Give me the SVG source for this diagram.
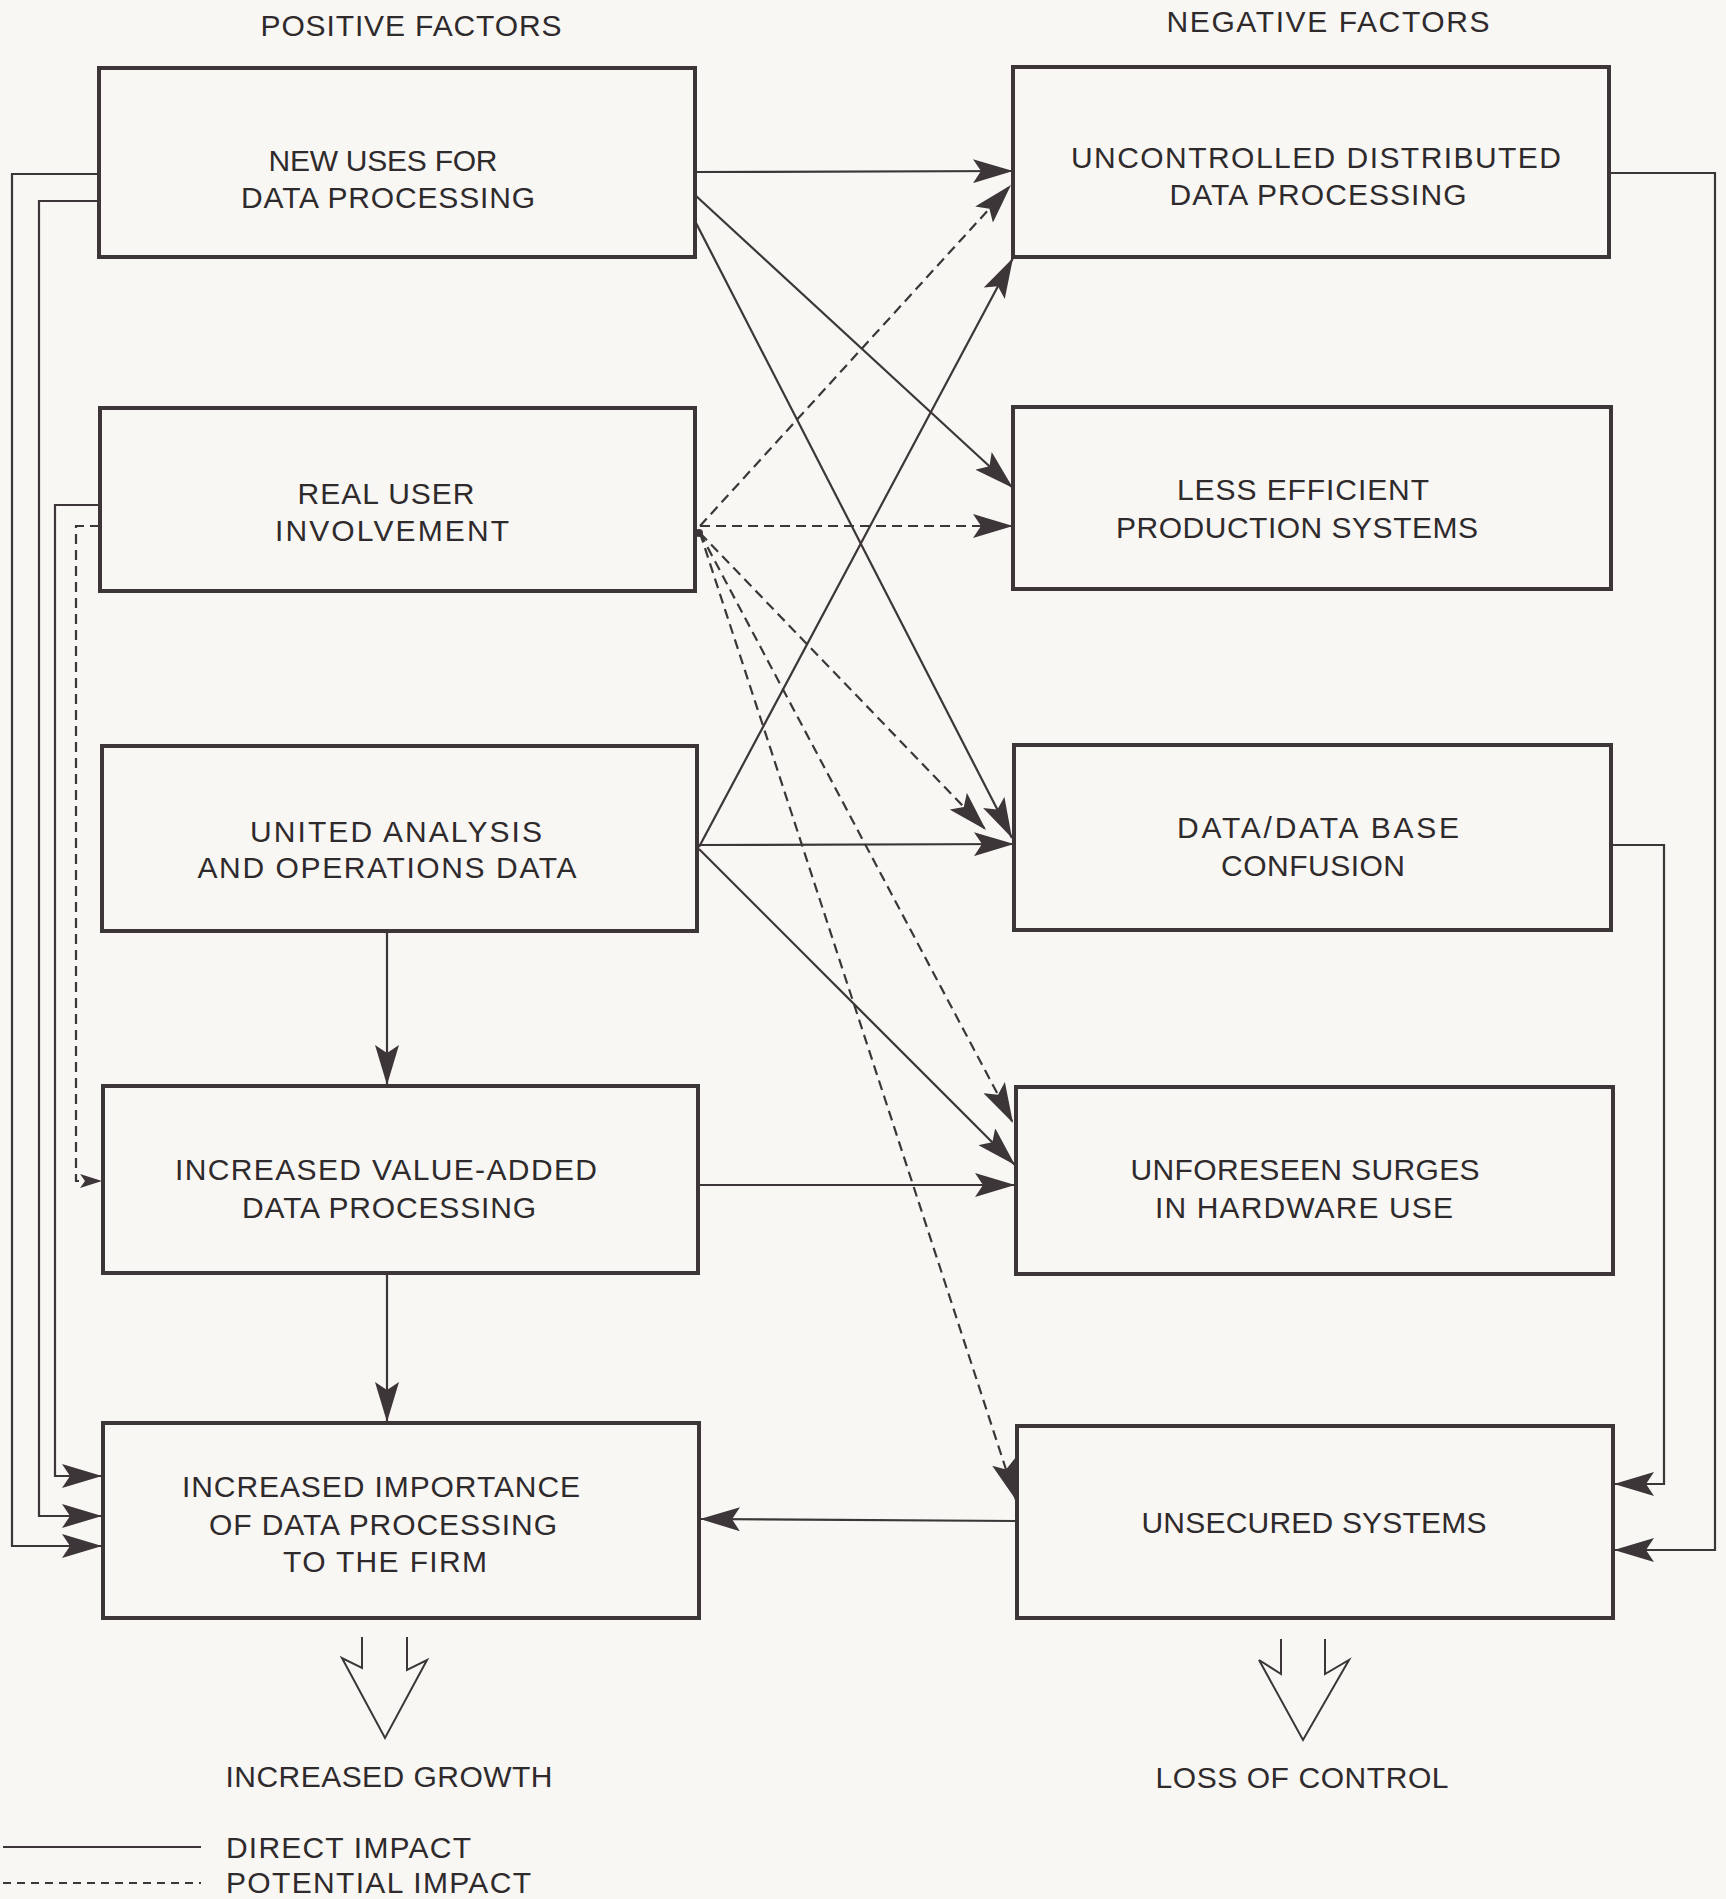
<svg xmlns="http://www.w3.org/2000/svg" width="1726" height="1899" viewBox="0 0 1726 1899">
<style>
.bg{fill:#f8f7f4}
.box{fill:none;stroke:#3c3638;stroke-width:4}
.t{font-family:"Liberation Sans",Arial,sans-serif;font-size:30px;fill:#2f2a2c;text-anchor:middle}
.tl{font-family:"Liberation Sans",Arial,sans-serif;font-size:30px;fill:#2f2a2c;text-anchor:start}
.c{fill:none;stroke:#3c3638;stroke-width:2.2}
.d{fill:none;stroke:#3c3638;stroke-width:2.2;stroke-dasharray:10 6}
.ah{fill:#3c3638}
.big{fill:none;stroke:#3c3638;stroke-width:2}
</style>
<defs>
<marker id="arr" viewBox="0 0 40 24" refX="40" refY="12" markerWidth="40" markerHeight="24" markerUnits="userSpaceOnUse" orient="auto">
<path class="ah" d="M0,0 L40,12 L0,24 L8,12 z"/>
</marker>
<marker id="arrs" viewBox="0 0 22 14" refX="22" refY="7" markerWidth="22" markerHeight="14" markerUnits="userSpaceOnUse" orient="auto">
<path class="ah" d="M0,0 L22,7 L0,14 L5,7 z"/>
</marker>
</defs>
<rect class="bg" x="0" y="0" width="1726" height="1899"/>

<g id="headers">
<text class="t" x="411" y="36" textLength="301">POSITIVE FACTORS</text>
<text class="t" x="1328" y="32" textLength="323">NEGATIVE FACTORS</text>
</g>

<g id="connectors">
<path class="c" d="M695,172 L1013,171" marker-end="url(#arr)"/>
<path class="c" d="M695,195 L1013,488" marker-end="url(#arr)"/>
<path class="c" d="M695,221 L1012,838" marker-end="url(#arr)"/>
<path class="c" d="M699,847 L1013,258" marker-end="url(#arr)"/>
<path class="c" d="M699,845 L1014,844" marker-end="url(#arr)"/>
<path class="c" d="M699,849 L1015,1165" marker-end="url(#arr)"/>
<path class="c" d="M387,931 L387,1085" marker-end="url(#arr)"/>
<path class="c" d="M698,1185 L1015,1185" marker-end="url(#arr)"/>
<path class="c" d="M387,1273 L387,1422" marker-end="url(#arr)"/>
<path class="c" d="M1017,1521 L700,1519" marker-end="url(#arr)"/>
<path class="c" d="M99,174 L12,174 L12,1546 L102,1546" marker-end="url(#arr)"/>
<path class="c" d="M99,201 L39,201 L39,1516 L102,1516" marker-end="url(#arr)"/>
<path class="c" d="M100,505 L55,505 L55,1476 L102,1476" marker-end="url(#arr)"/>
<path class="c" d="M1609,173 L1715,173 L1715,1550 L1614,1550" marker-end="url(#arr)"/>
<path class="c" d="M1611,845 L1664,845 L1664,1484 L1614,1484" marker-end="url(#arr)"/>
<path class="d" d="M700,526 L1011,185" marker-end="url(#arr)"/>
<path class="d" d="M700,526 L1013,526" marker-end="url(#arr)"/>
<path class="d" d="M700,533 L986,830" marker-end="url(#arr)"/>
<path class="d" d="M700,533 L1013,1123" marker-end="url(#arr)"/>
<path class="d" d="M700,533 L1016,1500" marker-end="url(#arr)"/>
<path class="d" d="M100,526 L76,526 L76,1181 L102,1181" marker-end="url(#arrs)"/>
<circle class="ah" cx="699" cy="533" r="4"/>
</g>

<g id="n-new-uses">
<rect class="box" x="99" y="68" width="596" height="189"/>
<text class="t" x="383" y="171" textLength="229">NEW USES FOR</text>
<text class="t" x="388" y="208" textLength="294">DATA PROCESSING</text>
</g>
<g id="n-real-user">
<rect class="box" x="100" y="408" width="595" height="183"/>
<text class="t" x="386" y="504" textLength="177">REAL USER</text>
<text class="t" x="392" y="541" textLength="234">INVOLVEMENT</text>
</g>
<g id="n-united">
<rect class="box" x="102" y="746" width="595" height="185"/>
<text class="t" x="396" y="842" textLength="292">UNITED ANALYSIS</text>
<text class="t" x="387" y="878" textLength="379">AND OPERATIONS DATA</text>
</g>
<g id="n-value-added">
<rect class="box" x="103" y="1086" width="595" height="187"/>
<text class="t" x="386" y="1180" textLength="422">INCREASED VALUE-ADDED</text>
<text class="t" x="389" y="1218" textLength="294">DATA PROCESSING</text>
</g>
<g id="n-importance">
<rect class="box" x="103" y="1423" width="596" height="195"/>
<text class="t" x="381" y="1497" textLength="398">INCREASED IMPORTANCE</text>
<text class="t" x="383" y="1535" textLength="348">OF DATA PROCESSING</text>
<text class="t" x="385" y="1572" textLength="204">TO THE FIRM</text>
</g>

<g id="n-uncontrolled">
<rect class="box" x="1013" y="67" width="596" height="190"/>
<text class="t" x="1316" y="168" textLength="490">UNCONTROLLED DISTRIBUTED</text>
<text class="t" x="1318" y="205" textLength="297">DATA PROCESSING</text>
</g>
<g id="n-less-efficient">
<rect class="box" x="1013" y="407" width="598" height="182"/>
<text class="t" x="1303" y="500" textLength="252">LESS EFFICIENT</text>
<text class="t" x="1297" y="538" textLength="362">PRODUCTION SYSTEMS</text>
</g>
<g id="n-confusion">
<rect class="box" x="1014" y="745" width="597" height="185"/>
<text class="t" x="1318" y="838" textLength="282">DATA/DATA BASE</text>
<text class="t" x="1313" y="876" textLength="184">CONFUSION</text>
</g>
<g id="n-surges">
<rect class="box" x="1016" y="1087" width="597" height="187"/>
<text class="t" x="1305" y="1180" textLength="349">UNFORESEEN SURGES</text>
<text class="t" x="1304" y="1218" textLength="298">IN HARDWARE USE</text>
</g>
<g id="n-unsecured">
<rect class="box" x="1017" y="1426" width="596" height="192"/>
<text class="t" x="1314" y="1533" textLength="345">UNSECURED SYSTEMS</text>
</g>

<g id="outcome-growth">
<path class="big" d="M362,1637 L362,1668 L342,1658 L385,1738 L427,1660 L407,1670 L407,1637"/>
<text class="t" x="389" y="1787" textLength="327">INCREASED GROWTH</text>
</g>
<g id="outcome-control">
<path class="big" d="M1281,1639 L1281,1674 L1259,1660 L1303,1740 L1349,1660 L1325,1674 L1325,1639"/>
<text class="t" x="1302" y="1788" textLength="293">LOSS OF CONTROL</text>
</g>

<g id="legend">
<path class="c" d="M3,1847 L201,1847"/>
<path class="d" d="M3,1883 L201,1883" style="stroke-dasharray:8 6"/>
<text class="tl" x="226" y="1858" textLength="245">DIRECT IMPACT</text>
<text class="tl" x="226" y="1893" textLength="305">POTENTIAL IMPACT</text>
</g>
</svg>
